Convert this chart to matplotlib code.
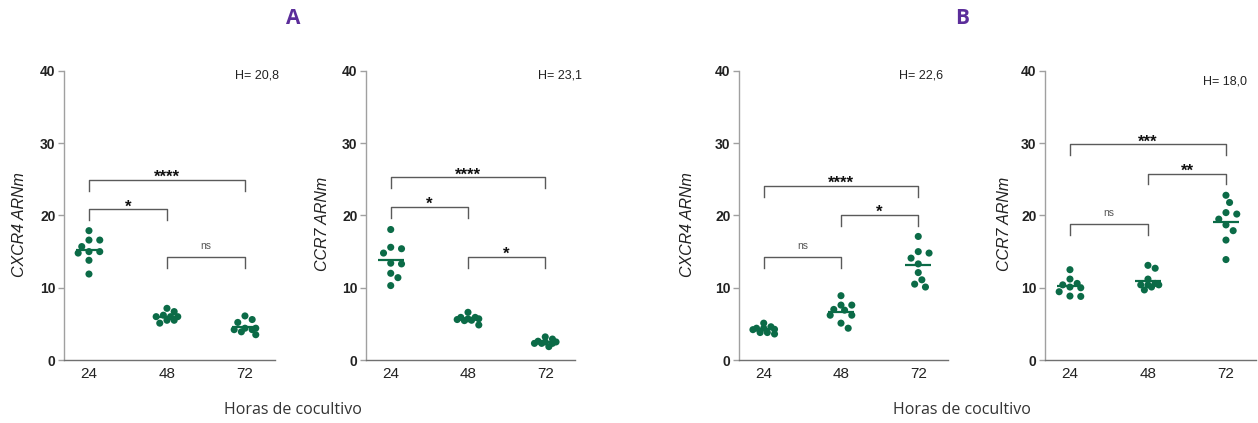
import matplotlib
matplotlib.use("Agg")
import matplotlib.pyplot as plt
import numpy as np

plt.rcParams['font.family'] = ['Liberation Sans', 'DejaVu Sans']

# ---------------- data ----------------
categories = ['24', '48', '72']

# Panel A - CXCR4
a_cxcr4_24 = [17.9, 16.6, 16.6, 15.7, 15.0, 15.0, 14.8, 13.8, 11.9]
a_cxcr4_48 = [7.15, 6.7, 6.0, 6.0, 6.2, 5.5, 5.5, 5.1, 6.0]
a_cxcr4_72 = [6.1, 5.6, 5.2, 4.4, 4.2, 4.2, 3.9, 3.5, 4.4]

# Panel A - CCR7
a_ccr7_24 = [18.06, 15.6, 15.4, 14.8, 13.4, 13.3, 12.0, 11.4, 10.3]
a_ccr7_48 = [6.6, 5.9, 5.9, 5.7, 5.6, 5.5, 5.45, 4.85, 5.7]
a_ccr7_72 = [3.2, 2.9, 2.5, 2.3, 2.3, 2.3, 2.5, 1.85, 2.6]

# Panel B - CXCR4
b_cxcr4_24 = [5.1, 4.4, 4.25, 4.6, 4.4, 3.8, 3.8, 3.6, 4.2]
b_cxcr4_48 = [8.9, 7.6, 7.6, 6.9, 7.0, 6.2, 6.2, 5.1, 4.4]
b_cxcr4_72 = [17.1, 15.0, 14.8, 14.1, 13.3, 12.1, 11.1, 10.5, 10.1]

# Panel B - CCR7
b_ccr7_24 = [12.5, 11.2, 10.6, 10.1, 10.0, 9.45, 8.85, 8.8, 10.4]
b_ccr7_48 = [13.1, 12.7, 11.2, 10.4, 10.4, 10.4, 10.1, 9.7, 10.6]
b_ccr7_72 = [22.8, 21.8, 20.2, 20.4, 19.5, 18.7, 17.9, 16.6, 13.9]

# brackets: (from index, to index, height, label)
a_cxcr4_brackets = [(0, 2, 24.9, '****'), (0, 1, 20.85, '*'), (1, 2, 14.2, 'ns')]
a_ccr7_brackets = [(0, 2, 25.3, '****'), (0, 1, 21.2, '*'), (1, 2, 14.3, '*')]
b_cxcr4_brackets = [(0, 2, 24.1, '****'), (1, 2, 20.1, '*'), (0, 1, 14.3, 'ns')]
b_ccr7_brackets = [(0, 2, 29.85, '***'), (1, 2, 25.8, '**'), (0, 1, 18.8, 'ns')]

h_labels = ['H= 20,8', 'H= 23,1', 'H= 22,6', 'H= 18,0']
ylabels = ['CXCR4 ARNm', 'CCR7 ARNm', 'CXCR4 ARNm', 'CCR7 ARNm']

panels = [
    (a_cxcr4_24, a_cxcr4_48, a_cxcr4_72),
    (a_ccr7_24, a_ccr7_48, a_ccr7_72),
    (b_cxcr4_24, b_cxcr4_48, b_cxcr4_72),
    (b_ccr7_24, b_ccr7_48, b_ccr7_72),
]
bracket_sets = [a_cxcr4_brackets, a_ccr7_brackets, b_cxcr4_brackets, b_ccr7_brackets]

# ---------------- layout ----------------
W, H = 1258, 423
fig = plt.figure(figsize=(W / 100, H / 100), dpi=100)

axes_px = [(64, 211), (366, 209), (739, 209), (1045, 211)]  # left, width
top_px, bot_px = 71, 360
h_pos = [(1.02, 0.986), (1.033, 0.986), (0.976, 0.986), (0.957, 0.962)]
ylab_px = [20, 323, 688, 1005]

GREEN = '#0b6b47'
XLIM = (-0.32, 2.385)


def swarm(values, ppx, ppy, diam=7.5, step=3.6, maxoff=13.0):
    vals = np.asarray(values, dtype=float)
    order = np.argsort(-vals)
    placed = []
    offs = np.zeros(len(vals))
    for i in order:
        yv = vals[i] * ppy
        best, best_d = 0.0, -1.0
        k = 0
        while True:
            cand = ((k + 1) // 2) * step * (1 if k % 2 else -1)
            if abs(cand) > maxoff:
                break
            dmin = min([np.hypot(cand - px, yv - py) for px, py in placed] or [1e9])
            if dmin >= diam:
                best = cand
                best_d = dmin
                break
            if dmin > best_d:
                best, best_d = cand, dmin
            k += 1
        placed.append((best, yv))
        offs[i] = best / ppx
    return offs


for p, (groups, brackets) in enumerate(zip(panels, bracket_sets)):
    left, width = axes_px[p]
    ax = fig.add_axes([left / W, 1 - bot_px / H, width / W, (bot_px - top_px) / H])
    ax.set_xlim(*XLIM)
    ax.set_ylim(0, 40)
    ppx = width / (XLIM[1] - XLIM[0])
    ppy = (bot_px - top_px) / 40.0

    for i, vals in enumerate(groups):
        offs = swarm(vals, ppx, ppy)
        ax.scatter(i + offs, vals, s=26, color=GREEN, edgecolors='none', zorder=3, clip_on=False)
        m = float(np.mean(vals))
        ax.plot([i - 0.17, i + 0.17], [m, m], color=GREEN, lw=1.6, zorder=4, solid_capstyle='butt')

    for (i0, i1, yb, lab) in brackets:
        ax.plot([i0, i0, i1, i1], [yb - 1.5, yb, yb, yb - 1.5], color='#5a5a5a', lw=1.0,
                clip_on=False, zorder=2)
        xm = (i0 + i1) / 2
        if lab == 'ns':
            ax.text(xm, yb + 1.1, lab, ha='center', va='baseline', fontsize=7.5, color='#555555')
        else:
            ax.text(xm, yb - 0.3, lab, ha='center', va='baseline', fontsize=12,
                    fontweight='bold', color='#111111')

    ax.text(h_pos[p][0], h_pos[p][1], h_labels[p], transform=ax.transAxes, ha='right',
            va='center', fontsize=9, color='#222222')

    for s in ['top', 'right']:
        ax.spines[s].set_visible(False)
    ax.spines['left'].set_color('#a0a0a0')
    ax.spines['bottom'].set_color('#707070')
    ax.spines['left'].set_linewidth(1.0)
    ax.spines['bottom'].set_linewidth(1.0)

    ax.set_yticks([0, 10, 20, 30, 40])
    ax.set_xticks([0, 1, 2])
    ax.set_xticklabels(categories)
    ax.tick_params(axis='y', length=4, width=1, color='#a0a0a0', labelsize=10,
                   labelcolor='#222222', pad=2)
    ax.tick_params(axis='x', length=0, labelsize=11, labelcolor='#222222', pad=5)
    for t in ax.get_yticklabels():
        t.set_fontweight('bold')

    ax.set_ylabel(ylabels[p], fontsize=11.5, fontstyle='italic', color='#222222')
    ax.yaxis.set_label_coords((ylab_px[p] + 7 - left) / width, 0.47)

# titles & shared x labels
for lab, xc in [('A', 293), ('B', 962)]:
    fig.text(xc / W, 1 - 18 / H, lab, ha='center', va='center', fontsize=15,
             fontweight='bold', color='#5b2d9a', family=['Open Sans', 'DejaVu Sans'])
    fig.text(xc / W, 1 - 410 / H, 'Horas de cocultivo', ha='center', va='center',
             fontsize=11.5, color='#333333', family=['Open Sans', 'DejaVu Sans'])

fig.savefig('out.png', dpi=100)
